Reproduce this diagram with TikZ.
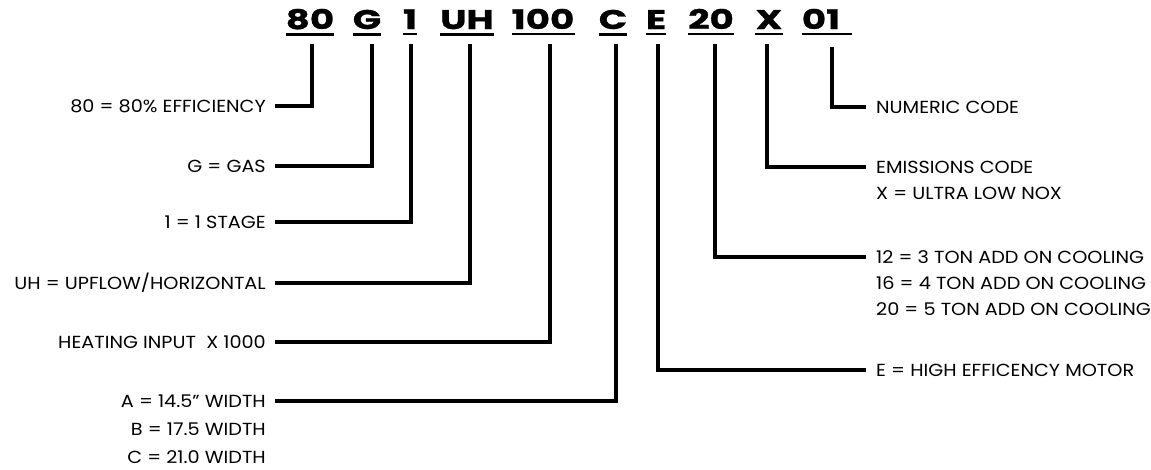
\documentclass[tikz,border=0pt]{standalone}
\usepackage{fontspec}
\setmainfont{Poppins}[FakeStretch=1.1]
\newfontfamily\codefont{Poppins}[FakeStretch=1.38,FakeBold=1]
\begin{document}
\begin{tikzpicture}[x=1pt,y=-1pt,
  codeword/.style={font=\codefont\bfseries\fontsize{27}{27}\selectfont, inner sep=0pt, anchor=base},
  lbl/.style={font=\fontsize{17.5}{17.5}\selectfont, inner sep=0pt, text height=12pt, text depth=0pt},
  lleft/.style={lbl, anchor=east},
  lright/.style={lbl, anchor=west},
  uline/.style={line width=2.4pt},
  conn/.style={line width=3.6pt, line join=miter}]
\useasboundingbox (0,0) rectangle (1151,469);
% code words
\node[codeword] (c80) at (310,29) {80};
\node[codeword] (cG) at (367,29) {G};
\node[codeword] (c1) at (410,29) {1};
\node[codeword] (cUH) at (467,29) {UH};
\node[codeword] (c100) at (543,29) {100};
\node[codeword] (cC) at (613,29) {C};
\node[codeword] (cE) at (656,29) {E};
\node[codeword] (c20) at (711,29) {20};
\node[codeword] (cX) at (769,29) {X};
\node[codeword] (c01) at (821,29) {01};
% underlines
\foreach \n in {c80,cG,c1,cUH,c100,cC,cE,c20,cX}
  \draw[uline] ([yshift=-5pt]\n.south west) -- ([yshift=-5pt]\n.south east);
\draw[uline] ([yshift=-5pt]c01.south west) -- ([xshift=12pt,yshift=-5pt]c01.south east);
% start points of connectors
\coordinate (s80) at (312,44);
\coordinate (sG) at (372,44);
\coordinate (s1) at (411,44);
\coordinate (sUH) at (470,44);
\coordinate (s100) at (550,44);
\coordinate (sC) at (616,44);
\coordinate (sE) at (658,44);
\coordinate (s20) at (715,44);
\coordinate (sX) at (767,44);
\coordinate (s01) at (832,47);
% left labels
\node[lleft] (l80) at (266,106) {80 = 80\% EFFICIENCY};
\node[lleft] (lG) at (266,166) {G = GAS};
\node[lleft] (l1) at (266,222) {1 = 1 STAGE};
\node[lleft] (lUH) at (266,283) {UH = UPFLOW/HORIZONTAL};
\node[lleft] (l100) at (266,342) {HEATING INPUT\ \ X 1000};
\node[lleft] (lC) at (266,401) {A = 14.5'' WIDTH};
\node[lleft] (lC2) at (266,429) {B = 17.5 WIDTH};
\node[lleft] (lC3) at (266,457) {C = 21.0 WIDTH};
% right labels
\node[lright] (r01) at (876,107) {NUMERIC CODE};
\node[lright] (rX) at (876,167) {EMISSIONS CODE};
\node[lright] (rX2) at (876,193) {X = ULTRA LOW NOX};
\node[lright] (r20) at (876,257) {12 = 3 TON ADD ON COOLING};
\node[lright] (r202) at (876,283) {16 = 4 TON ADD ON COOLING};
\node[lright] (r203) at (876,309) {20 = 5 TON ADD ON COOLING};
\node[lright] (rE) at (876,370) {E = HIGH EFFICENCY MOTOR};
% connectors
\draw[conn] (s80) |- ([xshift=9pt]l80.east);
\draw[conn] (sG) |- ([xshift=9pt]lG.east);
\draw[conn] (s1) |- ([xshift=9pt]l1.east);
\draw[conn] (sUH) |- ([xshift=9pt]lUH.east);
\draw[conn] (s100) |- ([xshift=9pt]l100.east);
\draw[conn] (sC) |- ([xshift=9pt]lC.east);
\draw[conn] (s01) |- ([xshift=-10pt]r01.west);
\draw[conn] (sX) |- ([xshift=-10pt]rX.west);
\draw[conn] (s20) |- ([xshift=-10pt]r20.west);
\draw[conn] (sE) |- ([xshift=-10pt]rE.west);
\end{tikzpicture}
\end{document}
